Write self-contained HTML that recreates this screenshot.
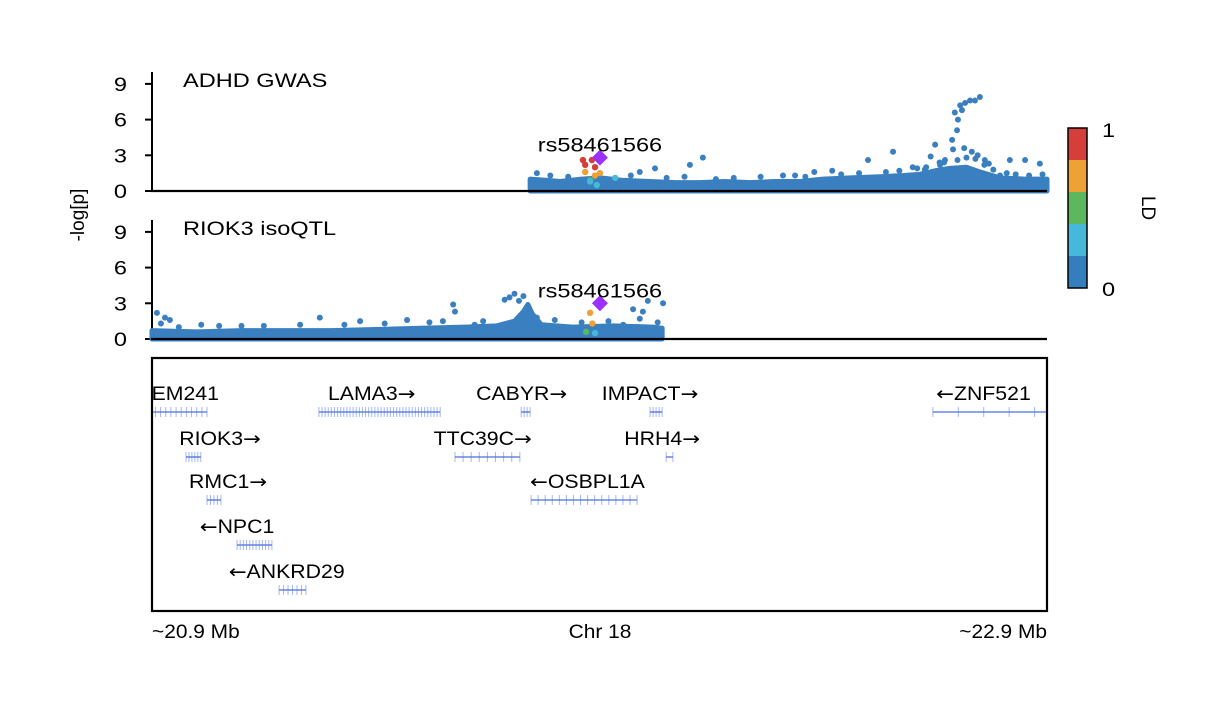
<!DOCTYPE html>
<html><head><meta charset="utf-8"><style>
html,body{margin:0;padding:0;background:#fff}
svg{display:block}
text{font-family:"Liberation Sans",sans-serif;fill:#000}
</style></head><body>
<svg id="chart" width="1224" height="704" viewBox="0 0 1224 704" xmlns="http://www.w3.org/2000/svg">
<defs><clipPath id="gclip"><rect x="153" y="359" width="893" height="251"/></clipPath></defs>
<g id="g-top"></g>
<g id="g-bot"></g>
<g id="g-genes"></g>
<g id="g-legend"></g>
</svg>
<script>
// ---- data ----
const yTicks = [0, 3, 6, 9];
const leadSnp = "rs58461566";
const leadPos = 21.901;
const leadTop = 2.8;
const leadBot = 3.0;
// GWAS dense band envelope
const topEnvPos = [21.745,21.78,21.812,21.86,21.901,21.95,22.013,22.07,22.125,22.18,22.236,22.29,22.348,22.40,22.460,22.527,22.58,22.616,22.65,22.683,22.72,22.750,22.795,22.85,22.900];
const topEnvVal = [1.0,0.9,0.8,1.0,1.1,0.9,0.8,0.7,0.7,0.8,0.7,0.8,0.8,1.0,1.1,1.2,1.3,1.4,1.7,1.9,2.0,1.6,1.1,1.0,1.0];
const topPos = [22.694,22.706,22.717,22.728,22.739,22.750,22.701,22.710,22.699,22.688,22.672,22.650,22.761,22.556,22.500,22.131,22.102,21.990,22.024,22.337,22.817,22.851,22.884,22.627,22.661,22.795,22.715,22.732,22.745,22.690,22.640,22.770,22.600,22.420,22.380,
  21.76,21.79,21.83,21.97,22.05,22.09,22.16,22.20,22.26,22.31,22.36,22.44,22.48,22.54,22.57,22.61,22.67,22.70,22.72,22.76,22.78,22.81,22.83,22.86,22.89,22.66,22.74,22.63];
const topVal = [6.6,7.2,7.4,7.6,7.6,7.9,6.0,6.8,5.1,4.3,2.6,3.9,2.6,3.3,2.6,2.8,2.2,1.6,1.9,1.3,2.6,2.6,2.3,1.8,2.2,1.3,3.6,3.3,3.0,3.5,2.9,2.3,2.0,1.7,1.6,
  1.5,1.3,1.2,1.3,1.1,1.2,1.0,1.1,1.2,1.3,1.2,1.4,1.5,1.6,1.7,1.9,2.4,2.6,2.8,2.2,1.8,1.5,1.4,1.3,1.4,2.4,2.7,2.0];
const topLdPos = [21.863,21.868,21.883,21.890,21.868,21.890,21.901,21.879,21.879,21.894,21.935];
const topLdVal = [2.6,2.2,2.6,2.0,1.6,1.3,1.5,0.9,0.8,0.5,1.1];
const topLdBin = [4,4,4,4,3,3,3,2,1,1,1];
// isoQTL
const botEnvPos = [20.9,21.0,21.1,21.2,21.3,21.4,21.5,21.6,21.67,21.71,21.73,21.74,21.75,21.77,21.84,21.93,22.02,22.04];
const botEnvVal = [0.7,0.6,0.7,0.7,0.7,0.8,0.9,1.0,1.1,1.5,2.3,2.9,2.1,1.2,1.0,1.1,1.0,0.9];
const botPos = [20.911,20.929,20.940,21.231,21.275,21.365,21.573,21.577,21.621,21.699,21.710,21.688,21.975,21.997,22.042,22.008,21.953,21.550,21.100,21.010,
  20.92,20.96,21.05,21.15,21.33,21.42,21.47,21.52,21.64,21.72,21.73,21.76,21.80,21.86,21.92,21.99,22.03];
const botVal = [2.2,1.8,1.6,1.2,1.8,1.5,2.9,2.3,1.2,3.5,3.8,3.3,2.5,2.3,3.0,3.2,1.2,1.5,1.1,1.2,
  1.3,1.0,1.1,1.1,1.2,1.3,1.6,1.4,1.5,3.2,3.6,1.8,1.6,1.4,1.5,1.7,1.4];
const botLdPos = [21.879,21.884,21.870,21.890];
const botLdVal = [2.2,1.3,0.6,0.5];
const botLdBin = [3,3,2,1];
// genes
const geneNames = ["TMEM241","LAMA3","CABYR","IMPACT","ZNF521","RIOK3","TTC39C","HRH4","RMC1","OSBPL1A","NPC1","ANKRD29"];
const geneStart = [20.873,21.273,21.725,22.013,22.645,20.976,21.577,22.049,21.023,21.747,21.090,21.184];
const geneEnd   = [21.023,21.544,21.745,22.040,22.929,21.009,21.722,22.064,21.054,21.984,21.168,21.244];
const geneStrand= [0,1,1,1,-1,1,1,1,1,-1,-1,-1];
const geneRow   = [0,0,0,0,0,1,1,1,2,2,3,4];
const geneExons = [14,40,4,5,6,6,9,2,5,16,12,7];
const geneLabelPos = [20.94,21.391,21.726,22.013,22.758,21.052,21.639,22.040,21.070,21.873,21.090,21.201];
const ldColors = ["#357ebd","#46b8da","#5cb85c","#eea236","#d43f3a"];

// ---- scales ----
const X0=152, X1=1047, D0=20.9, D1=22.9;
const xs = m => X0 + (m-D0)/(D1-D0)*(X1-X0);
const PX = 11.9;
const yTop = v => 191 - v*PX;
const yBot = v => 339 - v*PX;
const NS="http://www.w3.org/2000/svg";
function mk(tag, attrs, parent){const e=document.createElementNS(NS,tag);for(const k in attrs)e.setAttribute(k,attrs[k]);parent.appendChild(e);return e;}
function txt(parent,x,y,s,size,anchor,sx){
  const t=mk("text",{x:0,y:0,"font-size":size,"text-anchor":anchor||"start",transform:`translate(${x},${y}) scale(${sx||1.24},1)`},parent);
  t.textContent=s;return t;}
const BLUE="#3a7fc0";

function panel(g, ys, title, envPos, envVal, pos, val, ldPos, ldVal, ldBin, lead, axTop, axBot){
  const ax=mk("line",{x1:X0,y1:axTop,x2:X0,y2:axBot+1,stroke:"#000","stroke-width":2},g);
  
  
  yTicks.forEach(v=>{
    mk("line",{x1:X0-7,y1:ys(v),x2:X0,y2:ys(v),stroke:"#000","stroke-width":2},g);
    const t=txt(g,127,ys(v)+7,String(v),19,"end");
    
    
  });
  const tt=txt(g,183,axTop+15,title,19,"start");
  
  
  let d=`M${xs(envPos[0])},${ys(0)}`;
  envPos.forEach((p,i)=>{d+=` L${xs(p)},${ys(envVal[i])}`;});
  d+=` L${xs(envPos[envPos.length-1])},${ys(0)} Z`;
  const band=mk("path",{d:d,fill:BLUE,stroke:BLUE,"stroke-width":5,"stroke-linejoin":"round"},g);
  
  
  pos.forEach((p,i)=>{
    const c=mk("circle",{cx:xs(p),cy:ys(val[i]),r:3,fill:BLUE},g);
    
    
  });
  ldPos.forEach((p,i)=>{
    const c=mk("circle",{cx:xs(p),cy:ys(ldVal[i]),r:3.2,fill:ldColors[ldBin[i]]},g);
    
    
  });
  const lx=xs(leadPos), ly=ys(lead);
  const dm=mk("path",{d:`M${lx},${ly-8} L${lx+8},${ly} L${lx},${ly+8} L${lx-8},${ly} Z`,fill:"#9b30ff"},g);
  
  
  const lt=txt(g,lx,ly-6,leadSnp,19,"middle");
  
  
  const xa=mk("line",{x1:X0-1,y1:ys(0),x2:X1,y2:ys(0),stroke:"#000","stroke-width":2.2},g);
  
  
}
panel(document.getElementById("g-top"), yTop, "ADHD GWAS", topEnvPos, topEnvVal, topPos, topVal, topLdPos, topLdVal, topLdBin, leadTop, 72, 191);
panel(document.getElementById("g-bot"), yBot, "RIOK3 isoQTL", botEnvPos, botEnvVal, botPos, botVal, botLdPos, botLdVal, botLdBin, leadBot, 220, 339);

const svg=document.getElementById("chart");
const yl=mk("text",{x:0,y:0,"font-size":19,"text-anchor":"middle",transform:"translate(84,215) rotate(-90)"},svg);
yl.textContent="-log[p]";



// genes
const gg=document.getElementById("g-genes");
const box=mk("rect",{x:152,y:358,width:895,height:253,fill:"none",stroke:"#000","stroke-width":2.2},gg);


const gc=mk("g",{"clip-path":"url(#gclip)"},gg);
const rowY=[412,457,500,545,590];
const GC="#4a6fe0";
geneNames.forEach((n,i)=>{
  const y=rowY[geneRow[i]], a=xs(geneStart[i]), b=xs(geneEnd[i]);
  const grp=mk("g",{},gc);
  
  
  mk("line",{x1:a,y1:y,x2:b,y2:y,stroke:GC,"stroke-width":1.3},grp);
  const k=geneExons[i];
  for(let j=0;j<k;j++){
    const ex=a+(b-a)*(k===1?0.5:j/(k-1));
    mk("line",{x1:ex,y1:y-5,x2:ex,y2:y+5,stroke:GC,"stroke-width":1,"stroke-opacity":0.5},grp);
  }
  const t=mk("text",{x:0,y:0,"font-size":19,"text-anchor":"middle",transform:`translate(${xs(geneLabelPos[i])},${y-12}) scale(1.12,1)`},grp);
  if(geneStrand[i]<0){const s=mk("tspan",{"font-family":"DejaVu Sans, sans-serif"},t);s.textContent="←";}
  const s2=mk("tspan",{},t);s2.textContent=n;
  if(geneStrand[i]>0){const s=mk("tspan",{"font-family":"DejaVu Sans, sans-serif"},t);s.textContent="→";}
});
[["~20.9 Mb",152,"start","x-axis-start-label"],["Chr 18",600,"middle","x-axis-title"],["~22.9 Mb",1047,"end","x-axis-end-label"]].forEach(s=>{
  const t=txt(gg,s[1],638,s[0],19,s[2],1.1);
  
  
});

// legend
const lg=document.getElementById("g-legend");
const segH=32;
ldColors.forEach((c,i)=>{
  const r=mk("rect",{x:1068,y:128+segH*(4-i),width:19,height:segH,fill:c},lg);
  
  
});
mk("rect",{x:1068,y:128,width:19,height:160,fill:"none",stroke:"#000","stroke-width":1.5},lg);
const l1=txt(lg,1102,137,"1",19,"start");


const l0=txt(lg,1102,296,"0",19,"start");


const ldt=mk("text",{x:0,y:0,"font-size":19,"text-anchor":"middle",transform:"translate(1142,208) rotate(90)"},lg);
ldt.textContent="LD";


</script>
</body></html>
